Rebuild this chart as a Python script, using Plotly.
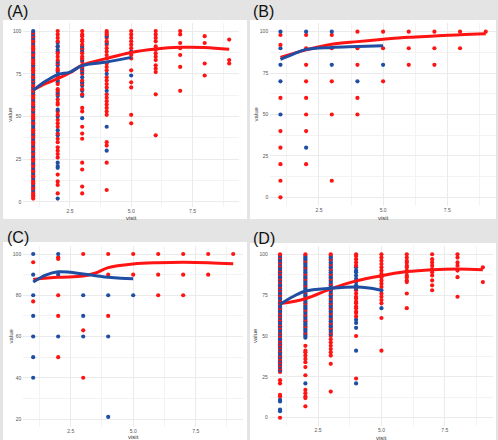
import plotly.graph_objects as go

W, H = 498, 440

# ---------------- data (visit -> values) ----------------
A_RED = {
    1: [2, 3, 4, 5, 6, 8, 9, 11, 12, 13, 15, 16, 18, 19, 21, 22, 24, 25, 26, 28, 29, 31, 32, 34, 35, 36, 38, 39,
        41, 42, 43, 46, 47, 49, 50, 51, 52, 54, 55, 57, 58, 59, 61, 62, 63, 65, 66, 68, 69, 71, 73, 74, 76, 77,
        78, 79, 81, 82, 83, 84, 86, 87, 89, 90, 91, 92, 94, 95, 97, 99],
    2: [5, 10, 12, 16, 26, 28, 30, 32, 35, 37, 40, 44, 46, 48, 51, 53, 57, 58, 60, 63, 65, 66, 69, 70, 73, 74, 77,
        78, 81, 83, 85, 87, 88, 91, 94, 96, 98, 100],
    3: [5, 9, 19, 23, 37, 40, 44, 53, 55, 63, 66, 69, 71, 75, 77, 79, 82, 84, 85, 87, 88, 90, 92, 94, 95, 97, 98, 100],
    4: [7, 23, 33, 35, 51, 53, 55, 57, 59, 61, 63, 67, 69, 71, 73, 77, 79, 81, 84, 86, 88, 90, 92, 94, 96, 98, 99, 100],
    5: [46, 51, 67, 70, 77, 84, 86, 90, 92, 94, 96, 98, 100],
    6: [39, 63, 76, 78, 80, 83, 85, 87, 89, 91, 94, 96, 98, 100],
    7: [65, 79, 86, 90, 93, 98, 100],
    8: [74, 81, 93, 97],
    9: [81, 83, 95],
}
A_BLUE = {
    1: [7, 10, 14, 17, 20, 23, 27, 30, 33, 37, 40, 44, 45, 48, 53, 56, 60, 64, 67, 70, 72, 75, 80, 85, 88, 93, 96, 98, 100],
    2: [2, 20, 21, 23, 39, 42, 50, 54, 62, 64, 71, 76, 80, 82, 89, 91, 93],
    3: [49, 62, 65, 68, 70, 73, 76, 78, 80, 83, 89, 91],
    4: [30, 44, 65, 75, 93, 97],
    5: [74, 88],
}
A_RED_LINE_X = [1, 1.5, 2, 2.5, 3, 4, 5, 6, 7, 8, 9]
A_RED_LINE_Y = [65.5, 69.2, 72.1, 75.6, 80, 84, 87.5, 89.5, 90.5, 90.4, 89.3]
A_BLUE_LINE_X = [1, 1.5, 2, 2.5, 3, 4, 5]
A_BLUE_LINE_Y = [65.3, 70.6, 74.5, 76, 79.8, 81.9, 84.6]

B_RED = {
    1: [0, 10, 20, 30, 40, 60, 92, 98],
    2: [20, 40, 50, 60, 70, 80, 90, 98],
    3: [10, 50, 70, 90, 98],
    4: [50, 60, 80, 90, 100],
    5: [70, 90, 100],
    6: [80, 90, 100],
    7: [80, 90, 100],
    8: [90, 100],
    9: [100],
}
B_BLUE = {
    1: [50, 70, 80, 90, 100],
    2: [30, 100],
    3: [80, 100],
    4: [70],
    5: [80],
}
B_RED_LINE_X = [1, 2, 3, 4, 5, 6, 7, 8, 9]
B_RED_LINE_Y = [84.5, 89, 92.4, 94, 95.4, 96.6, 97.4, 98.2, 98.7]
B_BLUE_LINE_X = [1, 1.5, 2, 3, 4, 5]
B_BLUE_LINE_Y = [83.3, 86.5, 89.3, 90.5, 91, 91.5]

C_RED = {
    1: [77, 96],
    2: [50, 70, 80, 97.6, 98.4],
    3: [40, 63, 100],
    4: [70, 90, 100],
    5: [90, 100],
    6: [80, 90, 100],
    7: [80, 90, 100],
    8: [90, 100],
    9: [100],
}
C_BLUE = {
    1: [40, 50, 60, 70, 80, 90, 100],
    2: [60, 90, 100],
    3: [60, 70, 80],
    4: [21, 60, 80],
    5: [80],
}
C_RED_LINE_X = [1, 2, 3, 3.5, 4, 5, 6, 7, 8, 9]
C_RED_LINE_Y = [87.7, 88.7, 89.3, 90.8, 93.4, 95.2, 95.8, 96, 95.8, 95.3]
C_BLUE_LINE_X = [1, 1.5, 2, 2.5, 3, 3.5, 4, 4.5, 5]
C_BLUE_LINE_Y = [86.4, 89.8, 91.4, 91.1, 90.3, 89.5, 88.7, 88.2, 88]

D_RED = {
    1: [0, 13, 14, 21, 23, 28, 30, 32, 34, 36, 38, 41, 43, 45, 47, 50, 52, 55, 57, 60, 62, 64, 67, 70, 72, 75, 78,
        80, 83, 85, 88, 90, 93, 95, 98, 100],
    2: [7, 12, 13, 15, 17, 26, 31, 34, 36, 38, 40, 41, 44, 52, 56, 60, 63, 66, 70, 74, 77, 81, 85, 88, 92, 96, 100],
    3: [16, 33, 38, 40, 42, 44, 46, 48, 50, 52, 55, 58, 61, 64, 67, 70, 73, 76, 79, 82, 85, 88, 91, 94, 97, 100],
    4: [24, 50, 62, 64, 65, 67, 68, 70, 71, 73, 74, 76, 78, 80, 93, 95, 97, 99, 100],
    5: [41, 61, 70, 72, 74, 76, 80, 82, 84, 86, 88, 90, 92, 94, 96, 98, 100],
    6: [67, 76, 83, 84, 86, 87, 89, 90, 92, 93, 95, 96, 98, 100],
    7: [78, 81, 84, 87, 89, 91, 93, 95, 97, 100],
    8: [74, 86, 90, 93, 95, 98, 100],
    9: [83, 92],
}
D_BLUE = {
    1: [4, 5, 10, 11, 29, 31, 33, 35, 37, 39, 40, 42, 44, 46, 48, 49, 51, 53, 54, 56, 58, 59, 61, 63, 65, 66, 68,
        69, 71, 73, 74, 76, 77, 79, 81, 82, 84, 86, 87, 89, 91, 92, 94, 96, 97, 99],
    2: [21, 49, 50, 51, 53, 54, 55, 57, 58, 59, 61, 62, 64, 65, 67, 68, 69, 71, 72, 73, 75, 76, 78, 79, 80, 82,
        83, 84, 86, 87, 89, 90, 91, 93, 94, 95, 97, 98, 99],
    3: [51, 53, 54, 56, 57, 59, 60, 62, 63, 65, 66, 68, 69, 71, 72, 74, 75, 77, 78, 80, 81, 83, 84, 86, 87, 89,
        90, 92, 93, 95, 96, 98, 99],
    4: [21, 41, 55, 58, 60, 79, 81, 83, 85, 87, 89, 90, 92],
    5: [67, 78],
}
D_RED_LINE_X = [1, 2, 3, 4, 5, 6, 7, 8, 9]
D_RED_LINE_Y = [69.8, 72.8, 78.8, 83.7, 86.9, 89.4, 90.6, 91, 90.6]
D_BLUE_LINE_X = [1, 1.5, 2, 3, 4, 4.5, 5]
D_BLUE_LINE_Y = [69.4, 74, 77.5, 79.2, 80, 79.4, 78]

# ---------------- styling ----------------
RED = "#ff1414"
BLUE = "#1f4ea3"
PAPER = "#e4e4e4"
FONT = "Liberation Sans, Arial, sans-serif"


def merged(red, blue):
    """Combine both groups into one point list sorted by visit/value so colours interleave."""
    pts = []
    for k, vals in red.items():
        for v in vals:
            pts.append((k, v, RED))
    for k, vals in blue.items():
        for v in vals:
            pts.append((k, v, BLUE))
    pts.sort(key=lambda t: (t[0], t[1]))
    return [t[0] for t in pts], [t[1] for t in pts], [t[2] for t in pts]


def px(x):
    return x / W


def py(y):
    return 1 - y / H


panels = [
    dict(lab="(A)", red=A_RED, blue=A_BLUE, rl=(A_RED_LINE_X, A_RED_LINE_Y), bl=(A_BLUE_LINE_X, A_BLUE_LINE_Y),
         box=(23.4, 239, 22.5, 207.1), yr=[-3, 105], yd=25, white=(3, 247, 20, 219), labxy=(5, 12),
         vtx=10, vty=218),
    dict(lab="(B)", red=B_RED, blue=B_BLUE, rl=(B_RED_LINE_X, B_RED_LINE_Y), bl=(B_BLUE_LINE_X, B_BLUE_LINE_Y),
         box=(270.2, 496, 23.4, 205.6), yr=[-5, 105], yd=25, white=(250, 496, 20, 219), labxy=(251, 12),
         vtx=255, vty=218),
    dict(lab="(C)", red=C_RED, blue=C_BLUE, rl=(C_RED_LINE_X, C_RED_LINE_Y), bl=(C_BLUE_LINE_X, C_BLUE_LINE_Y),
         box=(23.2, 243.2, 245.75, 427.25), yr=[16, 104], yd=20, white=(3, 247, 242, 440), labxy=(5, 237),
         vtx=10, vty=437),
    dict(lab="(D)", red=D_RED, blue=D_BLUE, rl=(D_RED_LINE_X, D_RED_LINE_Y), bl=(D_BLUE_LINE_X, D_BLUE_LINE_Y),
         box=(269.9, 493, 246.1, 425.9), yr=[-5, 105], yd=25, white=(250, 496, 243, 440), labxy=(251, 238),
         vtx=255, vty=438),
]

fig = go.Figure()
shapes = []
annotations = []

for i, p in enumerate(panels):
    n = "" if i == 0 else str(i + 1)
    xa, ya = "x" + n, "y" + n
    mx, my, mc = merged(p["red"], p["blue"])
    fig.add_trace(go.Scatter(x=mx, y=my, mode="markers", marker=dict(color=mc, size=4.2, line=dict(width=0)),
                             xaxis=xa, yaxis=ya, showlegend=False, hoverinfo="skip"))
    fig.add_trace(go.Scatter(x=p["rl"][0], y=p["rl"][1], mode="lines", line=dict(color=RED, width=3, shape="spline"),
                             xaxis=xa, yaxis=ya, showlegend=False, hoverinfo="skip"))
    fig.add_trace(go.Scatter(x=p["bl"][0], y=p["bl"][1], mode="lines", line=dict(color=BLUE, width=3, shape="spline"),
                             xaxis=xa, yaxis=ya, showlegend=False, hoverinfo="skip"))

    x0, x1, yt, yb = p["box"]
    common = dict(showline=False, zeroline=False, ticks="", gridcolor="#ebebeb", gridwidth=0.8,
                  tickfont=dict(size=5, color="#555555", family=FONT))
    fig.layout["xaxis" + n] = dict(domain=[px(x0), px(x1)], range=[0.6, 9.4], anchor=ya, tick0=0, dtick=2.5,
                                   tickformat=".1f", ticklabelstandoff=0,
                                   minor=dict(dtick=1.25, tick0=0, showgrid=True, gridcolor="#f3f3f3", gridwidth=0.6),
                                   **common)
    fig.layout["yaxis" + n] = dict(domain=[py(yb), py(yt)], range=p["yr"], anchor=xa, tick0=0, dtick=p["yd"],
                                   ticklabelstandoff=1,
                                   minor=dict(dtick=p["yd"] / 2, tick0=0, showgrid=True, gridcolor="#f3f3f3",
                                              gridwidth=0.6),
                                   **common)
    wx0, wx1, wy0, wy1 = p["white"]
    shapes.append(dict(type="rect", xref="paper", yref="paper", x0=px(wx0), x1=px(wx1), y0=py(wy1), y1=py(wy0),
                       fillcolor="white", line=dict(width=0), layer="below"))
    lx, ly = p["labxy"]
    annotations.append(dict(text=p["lab"], xref="paper", yref="paper", x=px(lx), y=py(ly), xanchor="left",
                            yanchor="middle", showarrow=False, font=dict(size=16, color="#111111", family=FONT)))
    annotations.append(dict(text="value", xref="paper", yref="paper", x=px(p["vtx"]), y=py((yt + yb) / 2),
                            xanchor="center", yanchor="middle", textangle=-90, showarrow=False,
                            font=dict(size=6, color="#333333", family=FONT)))
    annotations.append(dict(text="visit", xref="paper", yref="paper", x=px((x0 + x1) / 2), y=py(p["vty"]),
                            xanchor="center", yanchor="middle", showarrow=False,
                            font=dict(size=6, color="#333333", family=FONT)))

fig.update_layout(width=W, height=H, margin=dict(l=0, r=0, t=0, b=0), paper_bgcolor=PAPER, plot_bgcolor="white",
                  shapes=shapes, annotations=annotations, showlegend=False)

fig.write_html("out.html", config={"displayModeBar": False},
               post_script="document.body.style.margin='0px';document.body.style.overflow='hidden';")
